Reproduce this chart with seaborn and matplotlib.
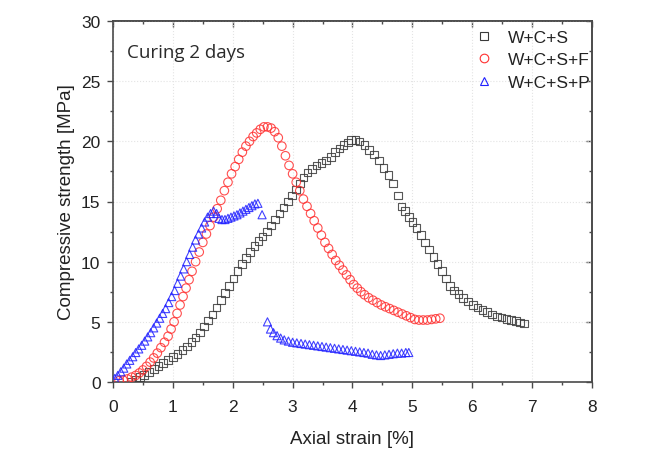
import numpy as np
import pandas as pd
import matplotlib
matplotlib.use("Agg")
import matplotlib.pyplot as plt
from matplotlib.lines import Line2D
from matplotlib.ticker import MultipleLocator
import seaborn as sns

# ---- data -------------------------------------------------------------
wcs_strain = [0.30, 0.38, 0.45, 0.52, 0.60, 0.68, 0.76, 0.84, 0.92, 1.00, 1.08, 1.16, 1.24, 1.31,
              1.38, 1.45, 1.52, 1.59, 1.66, 1.73, 1.80, 1.87, 1.94, 2.01, 2.08, 2.15, 2.22, 2.29,
              2.36, 2.43, 2.50, 2.57, 2.64, 2.71, 2.78, 2.85, 2.92, 2.99, 3.06, 3.12, 3.18, 3.25,
              3.32, 3.40, 3.48, 3.56, 3.64, 3.71, 3.78, 3.85, 3.92, 3.98, 4.05, 4.12, 4.20, 4.28,
              4.36, 4.44, 4.52, 4.60, 4.68, 4.76, 4.82, 4.88, 4.94, 5.00, 5.07, 5.14, 5.21, 5.28,
              5.35, 5.42, 5.49, 5.56, 5.63, 5.70, 5.77, 5.85, 5.93, 6.01, 6.09, 6.17, 6.25, 6.33,
              6.41, 6.49, 6.57, 6.65, 6.73, 6.80, 6.86]
wcs_stress = [0.05, 0.2, 0.4, 0.6, 0.85, 1.1, 1.35, 1.6, 1.85, 2.1, 2.35, 2.65, 2.95, 3.3,
              3.7, 4.1, 4.6, 5.1, 5.6, 6.2, 6.8, 7.4, 8.0, 8.6, 9.2, 9.8, 10.3, 10.8,
              11.3, 11.7, 12.1, 12.5, 13.0, 13.5, 14.0, 14.5, 15.0, 15.5, 16.0, 16.5, 17.0, 17.4,
              17.7, 18.0, 18.2, 18.4, 18.7, 19.1, 19.4, 19.7, 19.9, 20.1, 20.1, 20.0, 19.7, 19.3,
              18.9, 18.4, 17.8, 17.2, 16.5, 15.5, 14.6, 14.2, 13.7, 13.3, 12.8, 12.2, 11.6, 11.0,
              10.4, 9.8, 9.2, 8.6, 8.0, 7.6, 7.3, 7.0, 6.7, 6.4, 6.2, 6.0, 5.8, 5.6,
              5.45, 5.35, 5.25, 5.15, 5.05, 4.95, 4.85]

wcsf_strain = [0.10, 0.17, 0.24, 0.31, 0.38, 0.44, 0.50, 0.56, 0.62, 0.68, 0.74, 0.80, 0.86, 0.92,
               0.97, 1.02, 1.07, 1.12, 1.17, 1.22, 1.27, 1.32, 1.38, 1.44, 1.50, 1.56, 1.62, 1.68,
               1.74, 1.80, 1.86, 1.92, 1.98, 2.04, 2.10, 2.16, 2.22, 2.28, 2.34, 2.40, 2.46, 2.52,
               2.58, 2.64, 2.70, 2.76, 2.82, 2.88, 2.94, 3.00, 3.06, 3.12, 3.18, 3.24, 3.30, 3.36,
               3.42, 3.48, 3.54, 3.60, 3.66, 3.72, 3.78, 3.84, 3.90, 3.96, 4.02, 4.08, 4.14, 4.20,
               4.27, 4.34, 4.41, 4.48, 4.55, 4.62, 4.69, 4.76, 4.83, 4.90, 4.97, 5.04, 5.11, 5.18,
               5.25, 5.32, 5.39, 5.46]
wcsf_stress = [0.1, 0.15, 0.25, 0.4, 0.55, 0.75, 1.0, 1.3, 1.65, 2.0, 2.4, 2.85, 3.3, 3.8,
               4.4, 5.0, 5.7, 6.4, 7.1, 7.8, 8.5, 9.2, 10.0, 10.8, 11.6, 12.3, 13.0, 13.7,
               14.4, 15.1, 15.9, 16.6, 17.3, 17.9, 18.5, 19.1, 19.6, 20.0, 20.4, 20.7, 21.0, 21.2,
               21.2, 21.1, 20.8, 20.3, 19.6, 18.8, 18.0, 17.3, 16.6, 15.9, 15.2, 14.6, 14.0, 13.4,
               12.8, 12.2, 11.6, 11.1, 10.6, 10.1, 9.7, 9.3, 8.9, 8.5, 8.1, 7.8, 7.5, 7.25,
               7.0, 6.8, 6.6, 6.4, 6.25, 6.1, 5.95, 5.8, 5.65, 5.5, 5.35, 5.2, 5.15, 5.15,
               5.15, 5.2, 5.25, 5.3]

wcsp_strain = [0.03, 0.08, 0.13, 0.18, 0.23, 0.28, 0.33, 0.38, 0.43, 0.48, 0.53, 0.58, 0.63, 0.68,
               0.73, 0.78, 0.83, 0.88, 0.93, 0.98, 1.03, 1.08, 1.13, 1.18, 1.23, 1.28, 1.33, 1.38,
               1.43, 1.48, 1.53, 1.58, 1.63, 1.68, 1.73, 1.77, 1.82, 1.87, 1.92, 1.97, 2.02, 2.07,
               2.12, 2.17, 2.22, 2.27, 2.32, 2.37, 2.42, 2.49,
               2.58, 2.63, 2.68, 2.74, 2.80, 2.86, 2.93, 3.00, 3.07, 3.14, 3.21, 3.28, 3.35, 3.42,
               3.49, 3.56, 3.63, 3.70, 3.77, 3.84, 3.91, 3.98, 4.05, 4.12, 4.19, 4.26, 4.33, 4.40,
               4.47, 4.54, 4.61, 4.68, 4.75, 4.82, 4.89, 4.94]
wcsp_stress = [0.3, 0.55, 0.85, 1.15, 1.5, 1.8, 2.1, 2.45, 2.75, 3.05, 3.4, 3.75, 4.1, 4.5,
               4.9, 5.3, 5.7, 6.1, 6.6, 7.1, 7.6, 8.2, 8.8, 9.4, 10.0, 10.6, 11.2, 11.8,
               12.3, 12.8, 13.3, 13.7, 14.0, 14.2, 14.0, 13.6, 13.5, 13.5, 13.6, 13.7, 13.8, 13.9,
               14.05, 14.2, 14.35, 14.5, 14.65, 14.8, 14.85, 13.9,
               5.0, 4.4, 4.1, 3.85, 3.65, 3.5, 3.4, 3.3, 3.25, 3.2, 3.15, 3.1, 3.05, 3.0,
               2.95, 2.9, 2.85, 2.8, 2.75, 2.7, 2.65, 2.6, 2.55, 2.5, 2.45, 2.4, 2.3, 2.25,
               2.2, 2.25, 2.3, 2.35, 2.4, 2.4, 2.45, 2.45]

series_names = ["W+C+S", "W+C+S+F", "W+C+S+P"]
x_ticks = [0, 1, 2, 3, 4, 5, 6, 7, 8]
y_ticks = [0, 5, 10, 15, 20, 25, 30]

# ---- styling ----------------------------------------------------------
sns.set_theme(style="white")
plt.rcParams["font.family"] = ["Liberation Sans", "DejaVu Sans"]

colors = ["#3a3a3a", "#ff3030", "#2020ff"]
markers = ["s", "o", "^"]
sizes = [30, 38, 34]

fig = plt.figure(figsize=(6.58, 4.60), dpi=100)
ax = fig.add_axes([113 / 658, 1 - 383 / 460, (592 - 113) / 658, (383 - 22) / 460])

data = [(wcs_strain, wcs_stress), (wcsf_strain, wcsf_stress), (wcsp_strain, wcsp_stress)]
for (xs, ys), name, c, m, s in zip(data, series_names, colors, markers, sizes):
    df = pd.DataFrame({"strain": xs, "stress": ys})
    sns.scatterplot(data=df, x="strain", y="stress", ax=ax, marker=m, s=s,
                    facecolors="none", edgecolors=c, linewidth=0.8, legend=False,
                    alpha=0.85, zorder=3)

ax.set_xlim(0, 8)
ax.set_ylim(0, 30)
ax.set_xticks(x_ticks)
ax.set_yticks(y_ticks)
ax.xaxis.set_minor_locator(MultipleLocator(0.5))
ax.yaxis.set_minor_locator(MultipleLocator(2.5))

ax.grid(True, which="major", color="#e4e4e4", linestyle=":", linewidth=0.8)
ax.set_axisbelow(True)

spine_c = "#4a4a4a"
for sp in ax.spines.values():
    sp.set_visible(True)
    sp.set_color(spine_c)
    sp.set_linewidth(1.2)

ax.tick_params(axis="both", which="major", direction="out", length=4, width=1.0,
               color=spine_c, labelsize=12.5, labelcolor="#222222",
               bottom=True, left=True)
ax.tick_params(axis="x", which="major", pad=8)
ax.tick_params(axis="y", which="major", pad=5)
ax.tick_params(axis="both", which="minor", direction="out", length=2.5, width=1.0,
               color=spine_c, bottom=True, left=True)

# mirrored inward ticks on top / right
secx = ax.secondary_xaxis("top")
secx.set_xticks(x_ticks)
secx.xaxis.set_minor_locator(MultipleLocator(0.5))
secx.tick_params(which="major", direction="in", length=4, width=1.0, color=spine_c, labeltop=False)
secx.tick_params(which="minor", direction="in", length=2.5, width=1.0, color=spine_c)
secx.spines["top"].set_color(spine_c)
secx.spines["top"].set_linewidth(1.2)
secy = ax.secondary_yaxis("right")
secy.set_yticks(y_ticks)
secy.yaxis.set_minor_locator(MultipleLocator(2.5))
secy.tick_params(which="major", direction="in", length=4, width=1.0, color=spine_c, labelright=False)
secy.tick_params(which="minor", direction="in", length=2.5, width=1.0, color=spine_c)
secy.spines["right"].set_color(spine_c)
secy.spines["right"].set_linewidth(1.2)

ax.set_xlabel("Axial strain [%]", fontsize=13.5, color="#222222", labelpad=12)
ax.set_ylabel("Compressive strength [MPa]", fontsize=13.5, color="#222222", labelpad=4)

ax.text(0.03, 0.915, "Curing 2 days", transform=ax.transAxes, fontsize=13.5,
        family=["Open Sans", "DejaVu Sans"], color="#2a2a2a", va="center", ha="left")

handles = [Line2D([], [], linestyle="none", marker=m, markersize=ms, markerfacecolor="none",
                  markeredgecolor=c, markeredgewidth=0.8)
           for m, c, ms in zip(markers, colors, [5.5, 6.2, 6.0])]
leg = ax.legend(handles, series_names, loc="upper left", bbox_to_anchor=(0.745, 0.985),
                frameon=False, fontsize=12.5, handlelength=1.2, handletextpad=0.8,
                labelspacing=0.42, borderaxespad=0, borderpad=0.2)
for t in leg.get_texts():
    t.set_color("#222222")

fig.savefig("out.png", dpi=100)
